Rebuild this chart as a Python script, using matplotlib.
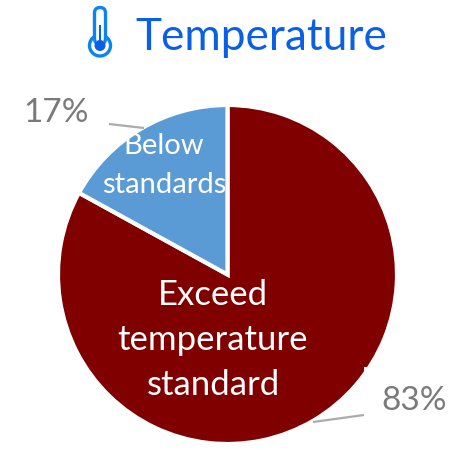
import matplotlib
matplotlib.use("Agg")
import matplotlib.pyplot as plt
from matplotlib.patches import Circle, FancyBboxPatch, Rectangle

shares = [83, 17]
slice_colors = ["#800000", "#5B9BD5"]
share_labels = ["83%", "17%"]
category_labels = ["Exceed\ntemperature\nstandard", "Below\nstandards"]
title_text = "Temperature"

FONT = "Lato"
W, H = 475, 450


def py(y):
    """Convert a distance from the top edge into the upward axis units."""
    return H - y


fig = plt.figure(figsize=(4.75, 4.5), dpi=100)
ax = fig.add_axes([0, 0, 1, 1])

ax.pie(
    shares,
    colors=slice_colors,
    startangle=90,
    counterclock=False,
    center=(227.5, py(274.5)),
    radius=169.5,
    frame=True,
    wedgeprops=dict(edgecolor="white", linewidth=3),
)
ax.set_xlim(0, W)
ax.set_ylim(0, H)
ax.set_aspect("equal")
ax.axis("off")

# White box behind the lower percentage, which clips the pie's edge
ax.add_patch(Rectangle((364, py(415)), 80, 35, facecolor="white", edgecolor="none", zorder=3))
ax.add_patch(Rectangle((364, py(380)), 8, 13, facecolor="white", edgecolor="none", zorder=3))

# Leader lines
ax.plot([313, 364], [py(422), py(415)], color="#ABABAB", lw=1.6, zorder=4, solid_capstyle="butt")
ax.plot([109, 144], [py(124), py(128)], color="#ABABAB", lw=1.6, zorder=4, solid_capstyle="butt")

# Percentages
ax.text(414.5, py(401), share_labels[0], color="#7A7A7A", fontsize=24, family=FONT,
        ha="center", va="center", zorder=5)
ax.text(56, py(113.5), share_labels[1], color="#7A7A7A", fontsize=24, family=FONT,
        ha="center", va="center", zorder=5)

# Category names inside the slices
ax.text(213, py(340), category_labels[0], color="white", fontsize=25, family=FONT,
        ha="center", va="center", linespacing=1.49, zorder=5)
ax.text(164, py(165.5), category_labels[1], color="white", fontsize=21, family=FONT,
        ha="center", va="center", linespacing=1.6, zorder=5)

# Title
ax.text(135, py(50), title_text, color="#0B5FE3", fontsize=31.8, family=FONT,
        ha="left", va="baseline", zorder=5)

# Thermometer icon
icon = "#0A84F0"
ax.add_patch(Circle((100, py(45.5)), 10.5, facecolor="white", edgecolor=icon, lw=2.4, zorder=5))
ax.add_patch(FancyBboxPatch((94.5, py(44)), 11, 36.5, boxstyle="round,pad=0,rounding_size=5.5",
                            facecolor="white", edgecolor=icon, lw=2.4, zorder=6))
ax.add_patch(Rectangle((95.7, py(47)), 8.6, 6, facecolor="white", edgecolor="none", zorder=7))
ax.add_patch(Rectangle((98.8, py(46)), 2.4, 21, facecolor="#0B5FE3", edgecolor="none", zorder=8))
ax.add_patch(Circle((100, py(45.5)), 5.5, facecolor="#0B5FE3", edgecolor="none", zorder=8))

fig.savefig("out.png", dpi=100, facecolor="white")
